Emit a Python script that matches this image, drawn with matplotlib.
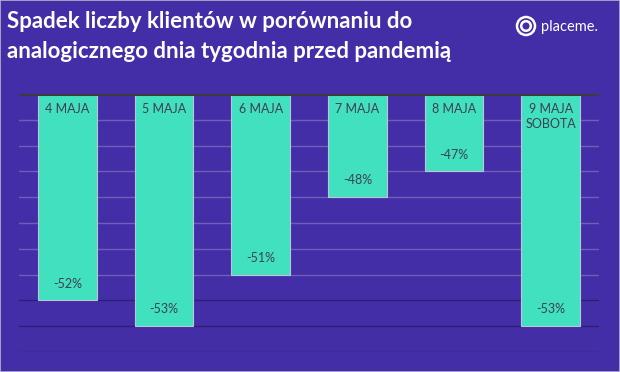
import matplotlib
matplotlib.use("Agg")
import matplotlib.pyplot as plt
from matplotlib.patches import Circle, Rectangle

categories = ["4 MAJA", "5 MAJA", "6 MAJA", "7 MAJA", "8 MAJA", "9 MAJA\nSOBOTA"]
values = [-52, -53, -51, -48, -47, -53]
value_labels = ["-52%", "-53%", "-51%", "-48%", "-47%", "-53%"]
grid_levels = [-45, -46, -47, -48, -49, -50, -51, -52, -53, -54]

BG = "#432EA7"
BAR = "#41E1C0"
TXT = "#3F3F4F"
BASE = -44

plt.rcParams["font.family"] = ["Lato", "DejaVu Sans"]

fig = plt.figure(figsize=(6.2, 3.72), dpi=100)
fig.patch.set_facecolor(BG)
fig.patches.append(Rectangle((0, 0), 1, 1, transform=fig.transFigure,
                             fill=False, edgecolor="#B8B4C8", linewidth=1.2))

ax = fig.add_axes([19 / 620, 20 / 372, 580 / 620, 258 / 372])
ax.set_facecolor(BG)
ax.set_xlim(-0.5, len(categories) - 0.5)
ax.set_ylim(-54, BASE)

for lvl in grid_levels:
    col = "#6E5FB8" if lvl > -52 else "#2C1F73"
    ax.axhline(lvl, color=col, linewidth=1.0, zorder=1)
ax.axhline(BASE, color="#3C3C3C", linewidth=2.2, zorder=4)

x = range(len(categories))
heights = [v - BASE for v in values]
ax.bar(x, heights, bottom=BASE, width=0.61, color=BAR,
       edgecolor="#BFC3D6", linewidth=0.8, zorder=3)

for i, (cat, v, lab) in enumerate(zip(categories, values, value_labels)):
    ax.text(i, BASE - 0.33, cat, ha="center", va="top", fontsize=9,
            color=TXT, zorder=5, linespacing=1.35)
    ax.text(i, v + 0.65, lab, ha="center", va="center", fontsize=9,
            color=TXT, zorder=5)

for s in ax.spines.values():
    s.set_visible(False)
ax.set_xticks([])
ax.set_yticks([])

fig.text(7 / 620, 1 - 22 / 372, "Spadek liczby klientów w porównaniu do",
         fontsize=16, fontweight="bold", color="white", va="center", ha="left")
fig.text(7 / 620, 1 - 52 / 372, "analogicznego dnia tygodnia przed pandemią",
         fontsize=16, fontweight="bold", color="white", va="center", ha="left")

# logo
for r in (9.0, 4.8):
    fig.patches.append(Circle((526, 372 - 26), r, transform=None,
                              fill=False, edgecolor="white", linewidth=1.8))
fig.text(541 / 620, 1 - 27 / 372, "placeme.", fontsize=10.5, color="white",
         va="center", ha="left")

fig.savefig("out.png", dpi=100, facecolor=BG)
